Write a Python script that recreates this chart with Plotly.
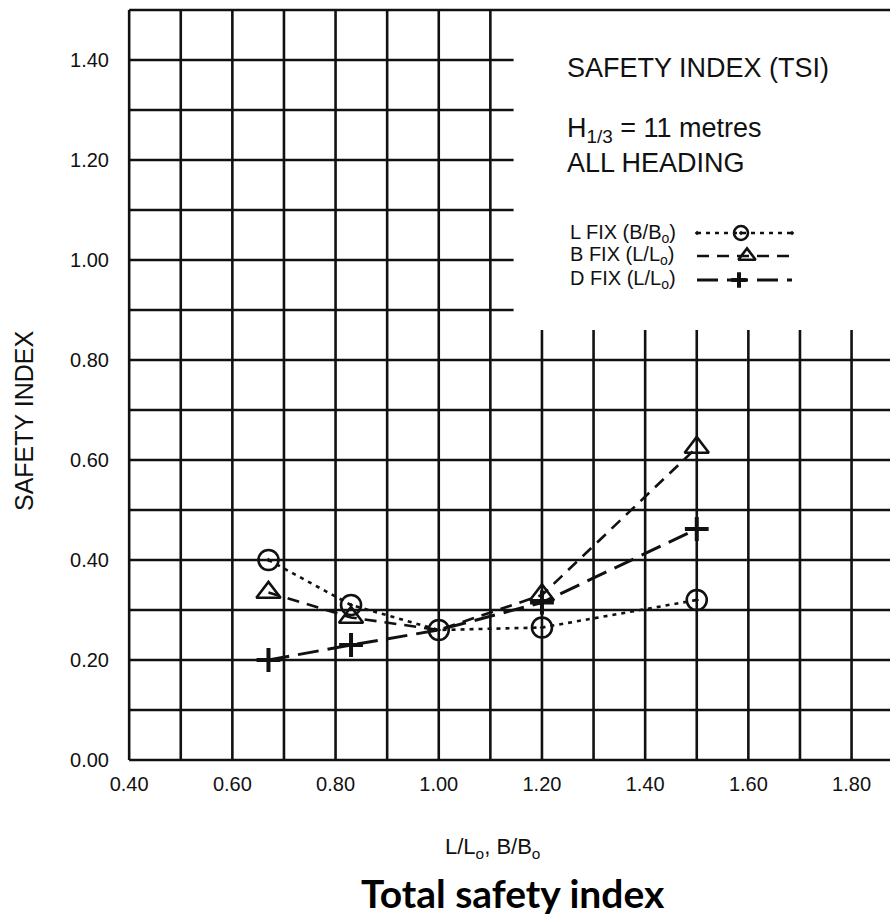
import plotly.graph_objects as go

# Length / beam ratio (L/Lo, B/Bo) at which each hull variant was evaluated
ratio = [0.67, 0.83, 1.00, 1.20, 1.50]

# Total safety index for each variant family
l_fix = [0.40, 0.31, 0.26, 0.265, 0.32]   # L fixed, beam varied
b_fix = [0.335, 0.285, 0.26, 0.33, 0.625]  # B fixed, length varied
d_fix = [0.20, 0.23, 0.26, 0.315, 0.462]   # D fixed, length varied

x_tick_vals = [0.4, 0.6, 0.8, 1.0, 1.2, 1.4, 1.6, 1.8]
y_tick_vals = [0.0, 0.2, 0.4, 0.6, 0.8, 1.0, 1.2, 1.4]

x_grid = [round(0.4 + 0.1 * i, 2) for i in range(15)]
y_grid = [round(0.1 * i, 2) for i in range(16)]

# page geometry
W, H = 890, 922
ML, MR, MT, MB = 124, 0, 5, 157
X_PER_UNIT = 516.0
X_RANGE = [0.39, 0.39 + (W - ML - MR) / X_PER_UNIT]
Y_RANGE = [-0.01, 1.51]
X_MAX = X_RANGE[1]


def px_x(p):
    return (p - ML) / (W - ML - MR)


def px_y(p):
    return (H - MB - p) / (H - MT - MB)


INK = "#111111"
GRID_W = 2.6
SANS = "Liberation Sans, Arial, Helvetica, sans-serif"

styles = {
    "L FIX": dict(dash="4px,5px", width=2.6, symbol="circle-open-dot", size=20, mw=2.6),
    "B FIX": dict(dash="12px,8px", width=2.6, symbol="triangle-up-open", size=21, mw=2.6),
    "D FIX": dict(dash="21px,9px", width=3.0, symbol="cross-thin-open", size=17, mw=4.0),
}

fig = go.Figure()

for name, vals in [("L FIX", l_fix), ("B FIX", b_fix), ("D FIX", d_fix)]:
    st = styles[name]
    # the shared base point (1.00) carries only the circle marker
    sizes = [0 if (name != "L FIX" and r == 1.00) else st["size"] for r in ratio]
    fig.add_trace(go.Scatter(
        x=ratio, y=vals, name=name, mode="lines+markers",
        line=dict(color=INK, width=st["width"], dash=st["dash"]),
        marker=dict(symbol=st["symbol"], size=sizes, color=INK, opacity=1,
                    line=dict(color=INK, width=st["mw"])),
        showlegend=False, cliponaxis=False,
    ))

# grid: the upper-right block is left open for the caption
shapes = []
for gx in x_grid:
    top = 1.5 if gx <= 1.1 else 0.86
    shapes.append(dict(type="line", xref="x", yref="y", x0=gx, x1=gx, y0=0, y1=top,
                       line=dict(color=INK, width=GRID_W), layer="below"))
for gy in y_grid:
    right = X_MAX if (gy <= 0.8 or gy >= 1.5) else 1.145
    shapes.append(dict(type="line", xref="x", yref="y", x0=0.4, x1=right, y0=gy, y1=gy,
                       line=dict(color=INK, width=GRID_W), layer="below"))

# key: label text followed by a line sample
key_rows = [
    ("L FIX", "L FIX (B/B<sub>o</sub>)", 233, 741),
    ("B FIX", "B FIX (L/L<sub>o</sub>)", 256, 747),
    ("D FIX", "D FIX (L/L<sub>o</sub>)", 280, 739),
]
annotations = []
for name, label, ypix, mark_px in key_rows:
    st = styles[name]
    yk = px_y(ypix)
    fig.add_trace(go.Scatter(
        x=[px_x(697), px_x(mark_px), px_x(792)], y=[yk, yk, yk],
        xaxis="x2", yaxis="y2", mode="lines+markers",
        line=dict(color=INK, width=st["width"], dash=st["dash"]),
        marker=dict(symbol=st["symbol"], size=[0, st["size"] - 6, 0], color=INK, opacity=1,
                    line=dict(color=INK, width=st["mw"])),
        showlegend=False, hoverinfo="skip", cliponaxis=False,
    ))
    annotations.append(dict(xref="paper", yref="paper", x=px_x(568), y=yk,
                            xanchor="left", yanchor="middle", showarrow=False,
                            text=label, font=dict(family=SANS, size=20, color=INK)))

for text, ypix in [("SAFETY INDEX (TSI)", 68),
                   ("H<sub>1/3</sub> = 11 metres", 130),
                   ("ALL HEADING", 163)]:
    annotations.append(dict(xref="paper", yref="paper", x=px_x(565), y=px_y(ypix),
                            xanchor="left", yanchor="middle", showarrow=False,
                            text=text, font=dict(family=SANS, size=27, color=INK)))

annotations.append(dict(xref="paper", yref="paper", x=px_x(24), y=px_y(421),
                        xanchor="center", yanchor="middle", showarrow=False, textangle=-90,
                        text="SAFETY INDEX", font=dict(family=SANS, size=25, color=INK)))
annotations.append(dict(xref="paper", yref="paper", x=px_x(492), y=px_y(848),
                        xanchor="center", yanchor="middle", showarrow=False,
                        text="L/L<sub>o</sub>, B/B<sub>o</sub>",
                        font=dict(family=SANS, size=22, color=INK)))
annotations.append(dict(xref="paper", yref="paper", x=px_x(513), y=px_y(893),
                        xanchor="center", yanchor="middle", showarrow=False,
                        text="<b>Total safety index</b>",
                        font=dict(family="Lato, Open Sans, sans-serif", size=39, color="#000000")))

fig.update_layout(
    width=W, height=H,
    margin=dict(l=ML, r=MR, t=MT, b=MB),
    paper_bgcolor="white", plot_bgcolor="white",
    xaxis=dict(range=X_RANGE, showgrid=False, zeroline=False, showline=False,
               tickvals=x_tick_vals, tickformat=".2f", ticks="",
               ticklabelstandoff=5,
               tickfont=dict(family=SANS, size=20, color=INK)),
    yaxis=dict(range=Y_RANGE, showgrid=False, zeroline=False, showline=False,
               tickvals=y_tick_vals, tickformat=".2f", ticks="",
               ticklabelstandoff=14,
               tickfont=dict(family=SANS, size=20, color=INK)),
    xaxis2=dict(range=[0, 1], overlaying="x", visible=False, fixedrange=True),
    yaxis2=dict(range=[0, 1], overlaying="y", visible=False, fixedrange=True),
    shapes=shapes,
    annotations=annotations,
    showlegend=False,
)

fig.write_html("out.html")
